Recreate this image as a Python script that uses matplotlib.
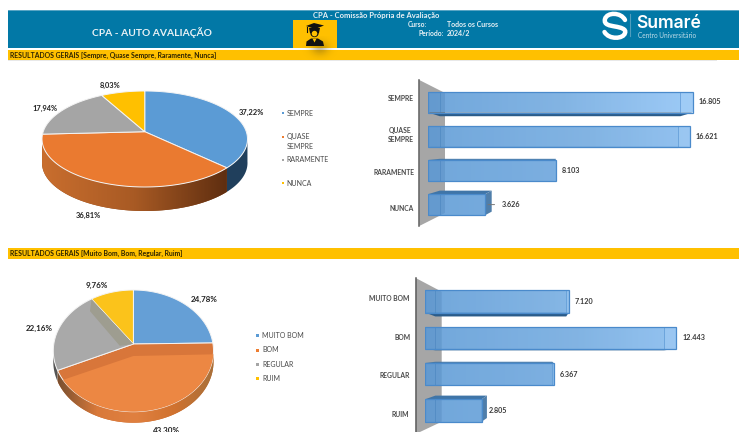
import numpy as np
import matplotlib
matplotlib.use("Agg")
import matplotlib.pyplot as plt
from matplotlib.patches import Polygon, Rectangle, Circle, PathPatch
from matplotlib.path import Path
from matplotlib.colors import LinearSegmentedColormap

W, H = 739, 432
plt.rcParams['font.family'] = ['Lato', 'DejaVu Sans']

# ---------- data ----------
cats_a = ["SEMPRE", "QUASE\nSEMPRE", "RARAMENTE", "NUNCA"]
legend_a = ["SEMPRE", "QUASE\nSEMPRE", "RARAMENTE", "NUNCA"]
counts_a = [16805, 16621, 8103, 3626]
count_labels_a = ["16.805", "16.621", "8.103", "3.626"]
shares_a = [37.22, 36.81, 17.94, 8.03]
share_labels_a = ["37,22%", "36,81%", "17,94%", "8,03%"]

cats_b = ["MUITO BOM", "BOM", "REGULAR", "RUIM"]
counts_b = [7120, 12443, 6367, 2805]
count_labels_b = ["7.120", "12.443", "6.367", "2.805"]
shares_b = [24.78, 43.30, 22.16, 9.76]
share_labels_b = ["24,78%", "43,30%", "22,16%", "9,76%"]

title_main = "CPA - AUTO AVALIAÇÃO"
title_top = "CPA - Comissão Própria de Avaliação"
band_a = "RESULTADOS GERAIS [Sempre, Quase Sempre, Raramente, Nunca]"
band_b = "RESULTADOS GERAIS [Muito Bom, Bom, Regular, Ruim]"

# ---------- style ----------
BLUE_HDR = "#0278A6"
YEL = "#FFC000"
TXT = "#4A4A4A"
DARK = "#222222"

fig = plt.figure(figsize=(W / 100, H / 100), dpi=100, facecolor="white")


def px_axes(x0, y0, x1, y1, z=1):
    a = fig.add_axes([x0 / W, 1 - y1 / H, (x1 - x0) / W, (y1 - y0) / H], zorder=z)
    a.patch.set_visible(False)
    return a


# page layer in pixel units
bg = px_axes(0, 0, W, H, 0)
bg.set_xlim(0, W)
bg.set_ylim(H, 0)
bg.axis("off")

# header
bg.add_patch(Rectangle((8, 10.5), W - 8, 37.5, fc=BLUE_HDR, ec="none"))
bg.add_patch(Rectangle((8, 10.2), W - 8, 0.8, fc="#5AA5C4", ec="none"))
bg.add_patch(Rectangle((8, 50), W - 8, 10, fc=YEL, ec="none"))
bg.add_patch(Rectangle((8, 248), W - 8, 11, fc=YEL, ec="none"))
bg.add_patch(Rectangle((293, 19.5), 44, 28.5, fc=YEL, ec="none"))
bg.add_patch(Rectangle((8, 60), W - 30, 0.7, fc="#E8E8E8", ec="none"))

# shadow falling from the icon
yy, xx = np.mgrid[0:1:40j, 0:1:60j]
shadow = np.zeros((40, 60, 4))
shadow[..., :3] = (0.35, 0.28, 0.1)
shadow[..., 3] = 0.34 * np.exp(-((xx - .5) / .22) ** 2 - ((yy - .5) / .3) ** 2)
bg.imshow(shadow, extent=(300, 340, 60, 36), aspect="auto", zorder=2, interpolation="bilinear")
bg.set_xlim(0, W)
bg.set_ylim(H, 0)

# graduate icon
ic = "#111111"
bg.add_patch(Polygon([(306, 26), (314, 23), (324, 25.5), (315, 29)], fc=ic, ec="none", zorder=3))
bg.add_patch(Polygon([(309, 28), (320, 28), (319, 33), (310, 33)], fc=ic, ec="none", zorder=3))
bg.add_patch(Circle((314.5, 33), 4.2, fc=ic, ec="none", zorder=3))
bg.add_patch(Circle((314.5, 33.6), 2.8, fc=YEL, ec="none", zorder=3))
bg.add_patch(Polygon([(306, 46), (306.5, 41.5), (311, 38.5), (318, 38.5), (323, 41.5), (324, 46)],
                     fc=ic, ec="none", zorder=3))
bg.add_patch(Polygon([(312.5, 38.6), (316.5, 38.6), (314.5, 42.5)], fc=YEL, ec="none", zorder=3))
bg.plot([307, 307], [27, 32], color=ic, lw=0.8, zorder=3)

# logo
s = [(625, 20), (621, 12), (607, 12), (605, 19),
     (603.5, 25), (610, 25.5), (615, 26.5),
     (621, 27.5), (626.5, 29), (625, 33),
     (623.5, 39), (609, 40), (604.5, 32)]
codes = [Path.MOVETO] + [Path.CURVE4] * (len(s) - 1)
bg.add_patch(PathPatch(Path(s, codes), fc="none", ec="white", lw=3.2, capstyle="round", zorder=3))
bg.plot([629.5, 629.5], [14, 36], color="#4F9DBD", lw=0.8, zorder=3)
bg.text(636.5, 23.2, "Sumaré", color="white", fontsize=12.6, fontweight="semibold", family="Inter",
        va="center", ha="left", zorder=3)
bg.text(637.5, 35.2, "Centro Universitário", color="#BFDCE8", fontsize=4.7, va="center", ha="left", zorder=3)

# header / band texts
hw = "#E9F1F5"
bg.text(151.5, 33, title_main, color=hw, fontsize=7.4, fontweight="bold", ha="center", va="center", zorder=3)
bg.text(376.5, 15.2, title_top, color=hw, fontsize=5.5, fontweight="bold", ha="center", va="center", zorder=3)
bg.text(407.5, 24.5, "Curso:", color=hw, fontsize=4.9, fontweight="bold", ha="left", va="center", zorder=3)
bg.text(446.7, 24.5, "Todos os Cursos", color=hw, fontsize=5.0, fontweight="bold", ha="left", va="center", zorder=3)
bg.text(443.5, 33.8, "Período:", color=hw, fontsize=4.9, fontweight="bold", ha="right", va="center", zorder=3)
bg.text(446.7, 33.8, "2024/2", color=hw, fontsize=5.0, fontweight="bold", ha="left", va="center", zorder=3)
bg.text(9.5, 55.2, band_a, color="#2E2400", fontsize=4.95, fontweight="bold", ha="left", va="center", zorder=3)
bg.text(9.5, 253.8, band_b, color="#2E2400", fontsize=4.95, fontweight="bold", ha="left", va="center", zorder=3)


def persp(theta_deg, k):
    """Foreshortened angle on the ellipse for a true clockwise pie angle."""
    t = np.radians(np.asarray(theta_deg, float))
    return 2 * np.arctan2(k * np.sin(t / 2), np.cos(t / 2))


def pie3d(values, colors, side_cols, box, top_y, bottom_y, apex_y, depth, k, side_grad=None):
    x0, x1 = box
    cx, rx = (x0 + x1) / 2, (x1 - x0) / 2
    cy, ry = (top_y + bottom_y) / 2, (bottom_y - top_y) / 2
    # axes in units of the two radii
    ax = px_axes(cx - 1.3 * rx, cy - 1.3 * ry, cx + 1.3 * rx, cy + 1.3 * ry + depth, 2)
    wedges, _ = ax.pie(values, colors=colors, startangle=90, counterclock=False, radius=1,
                       wedgeprops=dict(edgecolor="#F4F4F4", linewidth=0.7))
    ax.set_aspect("auto")
    ax.set_xlim(-1.3, 1.3)
    d = depth / ry
    ax.set_ylim(-1.3 - d, 1.3)
    apex = (0.0, (cy - apex_y) / ry)
    cum = np.concatenate([[0], np.cumsum(values)]) / np.sum(values) * 360
    # side walls
    for i, w in enumerate(wedges):
        a0, a1 = persp(cum[i], k), persp(cum[i + 1], k)
        if a1 < a0:
            a1 += 2 * np.pi
        t = np.linspace(a0, a1, 80)
        vis = t[(np.cos(t) < 0) | (np.abs(np.sin(t)) > 0.999)]
        vis = vis[np.cos(vis) <= 0.25]
        if len(vis) > 1:
            px, py = np.sin(vis), np.cos(vis)
            poly = np.r_[np.c_[px, py], np.c_[px[::-1], py[::-1] - d]]
            side = Polygon(poly, fc=side_cols[i], ec="none", zorder=0.5)
            ax.add_patch(side)
            if side_grad and side_grad[i]:
                cm = LinearSegmentedColormap.from_list("s", side_grad[i])
                im = ax.imshow(np.linspace(0, 1, 200)[None, :], cmap=cm, aspect="auto",
                               extent=(px.min(), px.max(), -1.3 - d, 1.3), zorder=0.6)
                im.set_clip_path(side)
    ax.set_xlim(-1.3, 1.3)
    ax.set_ylim(-1.3 - d, 1.3)
    ax.set_aspect("auto")
    # top faces with the perspective shift of the pie centre
    for i, w in enumerate(wedges):
        a0, a1 = persp(cum[i], k), persp(cum[i + 1], k)
        if a1 < a0:
            a1 += 2 * np.pi
        t = np.linspace(a0, a1, 120)
        verts = np.r_[[apex], np.c_[np.sin(t), np.cos(t)], [apex]]
        w._path = Path(verts, closed=False)
        w.set_transform(ax.transData)
        w.set_zorder(2)
    return ax, wedges, apex, cum, ry


# ---------- first pie ----------
pie3d(shares_a, ["#5B9BD5", "#EA7A30", "#A5A5A5", "#FFC000"],
      ["#203F5C", "#8A4A1E", "#777777", "#B08500"], (42, 247.5), 91, 187, 131.7, 24, 0.85,
      side_grad=[None, ["#C96E2E", "#A85A24", "#5F2E10"], None, None])

# ---------- second pie ----------
ax, wedges, apex, cum, ry = pie3d(shares_b, ["#659FD6", "#D8763A", "#A9A9A9", "#FBC31B"],
                                  ["#3A5F82", "#C8692C", "#555555", "#B08500"],
                                  (53.3, 213.5), 290, 411.7, 344, 11, 0.89,
                                  side_grad=[None, ["#7A5030", "#D9793A", "#E08040", "#D0722F", "#A8703A"], None, None])
# lighter surface inside the orange slice and the seam on the grey slice
o_shift = 12 / ry
upper = np.linspace(persp(cum[1], .89), persp(cum[2], .89), 120)
poly = np.r_[[(apex[0], apex[1] - o_shift)],
             np.c_[1.1 * np.sin(upper), 1.1 * np.cos(upper) - o_shift], [(apex[0], apex[1] - o_shift)]]
lit = Polygon(poly, fc="#EC8743", ec="none", zorder=2.1)
ax.add_patch(lit)
lit.set_clip_path(wedges[1])
s0 = persp(cum[3], .89)
seam = Polygon([apex, (np.sin(s0), np.cos(s0)), (np.sin(s0) - .02, np.cos(s0) - .2),
                (apex[0] - .17, apex[1] - .03)], fc="#9E9D90", ec="none", zorder=2.1)
ax.add_patch(seam)
seam.set_clip_path(wedges[2])


def bars3d(cats, values, labels, left, scale, centers, bar_h, wall, tick_ys, lab_dx, tick_right, vx_px, leader=None):
    n = len(values)
    spacing = centers[1] - centers[0]
    top = centers[0] - spacing / 2
    bottom = centers[0] + spacing * (n - .5)
    right = W - 20
    # wall
    bg.add_patch(Polygon(wall, fc="#A6A6A6", ec="none", zorder=1))
    bg.plot([wall[0][0]] * 2, [wall[0][1], wall[3][1]], color="#5E5E5E", lw=1.1, zorder=1.2)

    ax = px_axes(left, top, right, bottom, 2)
    ax.set_xlim(0, (right - left) / scale)
    ax.set_ylim(n - .5, -.5)
    for sp in ax.spines.values():
        sp.set_visible(False)
    y = np.arange(n)
    bars = ax.barh(y, values, height=bar_h / spacing, color="none", edgecolor="#4A8ACB", linewidth=0.9, zorder=4)
    cm = LinearSegmentedColormap.from_list("b", ["#5A99D6", "#6EA8DF", "#8DC2F6"])
    vx = (vx_px - left) / scale
    vy = (n - 1) / 2 + .05
    fx, fy = .09, .07
    xmax = max(values)
    for i, (b, v) in enumerate(zip(bars, values)):
        # gradient face: stronger towards the right end and the upper rows
        span = 1 - .55 * i / (n - 1)
        g = np.linspace(0, span * v / xmax, 200)[None, :]
        im = ax.imshow(cm(g, alpha=.86), extent=(0, v, i + .5, i - .5), aspect="auto", zorder=3, interpolation="bilinear")
        im.set_clip_path(b)
        # back edges towards the vanishing point
        bx0 = 0 + (vx - 0) * fx
        bx1 = v + (vx - v) * fx
        by = (vy - i) * fy
        h2 = bar_h / spacing / 2
        if by > .03:      # bottom face
            ax.add_patch(Polygon([(0, i + h2), (v, i + h2), (bx1, i + h2 + by), (bx0, i + h2 + by)],
                                 fc="#2A5C8A", ec="none", zorder=2.5))
        elif by < -.03:    # top face
            ax.add_patch(Polygon([(0, i - h2), (v, i - h2), (bx1, i - h2 + by), (bx0, i - h2 + by)],
                                 fc="#3F75A8", ec="none", zorder=2.5))
        if bx1 > v:     # right face
            ax.add_patch(Polygon([(v, i - h2), (bx1, i - h2 + by), (bx1, i + h2 + by), (v, i + h2)],
                                 fc="#4F7EAA", ec="none", zorder=2.5))
        elif bx1 < v:   # lighter inner end seen through the face
            ax.add_patch(Polygon([(bx1, i - h2), (v, i - h2), (v, i + h2), (bx1, i + h2)],
                                 fc="#A9D2F8", alpha=.35, ec="none", zorder=3.5))
            ax.plot([bx1, bx1], [i - h2, i + h2], color="#4F8FCF", lw=.6, alpha=.7, zorder=3.6)
        # back-left edge seen through
        ax.plot([bx0, bx0], [i - h2, i + h2], color="#3F7CB8", lw=.5, alpha=.6, zorder=3.6)
        ax.annotate(labels[i], xy=(v, i), xytext=(lab_dx[i] * .72, 0), textcoords="offset points",
                    fontsize=5.2, fontweight="bold", color="#3A3A3A", va="center", ha="left", zorder=6)
    ax.set_xlim(0, (right - left) / scale)
    ax.set_ylim(n - .5, -.5)
    ax.set_xticks([])
    ax.set_yticks([(ty - top) / spacing - .5 for ty in tick_ys])
    ax.set_yticklabels(cats, fontsize=4.85, color=TXT, fontweight="bold", linespacing=1.25, ha="center", multialignment="center")
    widths = {"SEMPRE": 13, "QUASE\nSEMPRE": 13, "RARAMENTE": 20, "NUNCA": 12, "MUITO BOM": 20, "BOM": 7, "REGULAR": 15, "RUIM": 9}
    for lab, c in zip(ax.get_yticklabels(), cats):
        lab.set_x(-(left - tick_right + widths[c]) / (right - left))
    ax.tick_params(axis="y", length=0, pad=0)
    if leader is not None:
        i = leader
        ax.annotate("", xy=(values[i], i), xytext=(values[i] + 12 / scale, i),
                    arrowprops=dict(arrowstyle="-", color="#777777", lw=.7), zorder=5)
    return ax


bars3d(cats_a, counts_a, count_labels_a, 428.3, 0.01573, [102, 136.2, 170.4, 204.6], 21,
       [(419.3, 80), (445, 93), (445, 213), (419.3, 226)], [98.3, 134, 171.7, 208.3],
       [6.3, 6, 6, 16.7], 413.5, 556, leader=3)
bars3d(cats_b, counts_b, count_labels_b, 425, 0.0202, [301.3, 337.7, 374.1, 410.5], 22.4,
       [(415.7, 278), (441.7, 291.7), (441.7, 421.7), (415.7, 434)], [298, 336.7, 375, 414],
       [6, 6.3, 6, 7.3], 409.5, 540)

# ---------- pie labels and legends (page layer on top) ----------
top = px_axes(0, 0, W, H, 5)
top.set_xlim(0, W)
top.set_ylim(H, 0)
top.axis("off")
for lab, (x, y) in zip(share_labels_a, [(251.7, 112.7), (88.7, 215.3), (44.7, 108.3), (110.3, 85.3)]):
    top.text(x, y, lab, fontsize=5.4, fontweight="bold", color=DARK, ha="center", va="center")
for lab, (x, y) in zip(share_labels_b, [(204, 299), (166.7, 430.7), (39.3, 328.7), (96.7, 285)]):
    top.text(x, y, lab, fontsize=5.8, fontweight="bold", color=DARK, ha="center", va="center", clip_on=True)

for lab, col, y in zip(legend_a, ["#5B9BD5", "#ED7D31", "#A5A5A5", "#FFC000"], [113.3, 141.5, 160, 183.3]):
    my = 137 if "\n" in lab else y
    top.add_patch(Rectangle((282, my - 1), 2, 2, fc=col, ec="none"))
    top.text(286.7, y, lab, fontsize=5.0, color=TXT, ha="left", va="center", linespacing=1.45)
for lab, col, y in zip(cats_b, ["#5B9BD5", "#ED7D31", "#A5A5A5", "#FFC000"], [335.3, 350, 364.3, 378.3]):
    top.add_patch(Rectangle((256, y - 1.5), 3, 3, fc=col, ec="none"))
    top.text(262, y, lab, fontsize=5.0, color=TXT, ha="left", va="center")

fig.savefig("out.png", dpi=100, facecolor="white")
